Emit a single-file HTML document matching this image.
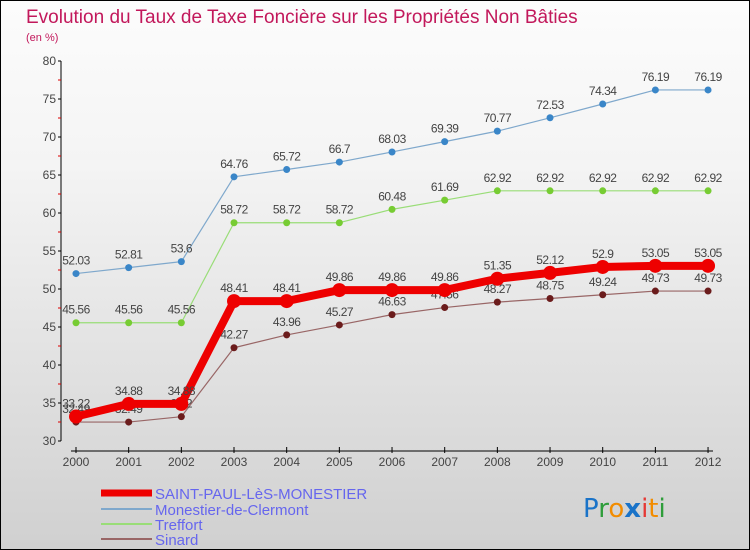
<!DOCTYPE html>
<html><head><meta charset="utf-8"><style>
body{margin:0}
#c{position:relative;width:748px;height:548px;border:1px solid #000;background:linear-gradient(#fcfcfc,#f4f4f4 30%,#d0d0d0);font-family:"Liberation Sans",sans-serif;overflow:hidden}
</style></head><body>
<div id="c">
<svg id="s" width="748" height="548" xmlns="http://www.w3.org/2000/svg" font-family="Liberation Sans, sans-serif">
<text x="25" y="22" font-size="19" fill="#c2185b">Evolution du Taux de Taxe Foncière sur les Propriétés Non Bâties</text>
<text x="25" y="40" font-size="11" fill="#c2185b">(en %)</text>
<g id="axes"></g><g id="series"></g>
<g>
<line x1="100" y1="492" x2="151" y2="492" stroke="#ee0000" stroke-width="7"/>
<text x="154" y="498" font-size="15" fill="#6666ee">SAINT-PAUL-LèS-MONESTIER</text>
<line x1="100" y1="508" x2="151" y2="508" stroke="#7fa8cc" stroke-width="2"/>
<text x="154" y="514" font-size="15" fill="#6666ee">Monestier-de-Clermont</text>
<line x1="100" y1="523" x2="151" y2="523" stroke="#99dd77" stroke-width="2"/>
<text x="154" y="529" font-size="15" fill="#6666ee">Treffort</text>
<line x1="100" y1="538" x2="151" y2="538" stroke="#996666" stroke-width="2"/>
<text x="154" y="544" font-size="15" fill="#6666ee">Sinard</text>
</g>
<g font-size="26" font-family="DejaVu Sans, sans-serif">
<text x="582" y="516"><tspan fill="#1a73c8">P</tspan><tspan fill="#2e9d3a">r</tspan><tspan fill="#f28c00">o</tspan><tspan fill="#1a73c8" font-weight="bold">x</tspan><tspan fill="#e53935">i</tspan><tspan fill="#f28c00">t</tspan><tspan fill="#2e9d3a">i</tspan></text>
</g>
</svg>
</div>
<script>
const years=[2000,2001,2002,2003,2004,2005,2006,2007,2008,2009,2010,2011,2012];
const saintPaul=[33.22,34.88,34.88,48.41,48.41,49.86,49.86,49.86,51.35,52.12,52.9,53.05,53.05];
const monestier=[52.03,52.81,53.6,64.76,65.72,66.7,68.03,69.39,70.77,72.53,74.34,76.19,76.19];
const treffort=[45.56,45.56,45.56,58.72,58.72,58.72,60.48,61.69,62.92,62.92,62.92,62.92,62.92];
const sinard=[32.49,32.49,33.2,42.27,43.96,45.27,46.63,47.56,48.27,48.75,49.24,49.73,49.73];
const yTicks=[30,35,40,45,50,55,60,65,70,75,80];
const NS="http://www.w3.org/2000/svg";
const xS=i=>75+i*52.67;
const yS=v=>440-(v-30)*7.6;
function el(t,a,p){const e=document.createElementNS(NS,t);for(const k in a)e.setAttribute(k,a[k]);p.appendChild(e);return e;}
const ax=document.getElementById('axes');
const yl=el('line',{x1:60,y1:60,x2:60,y2:440,stroke:'#000'},ax);


yTicks.forEach(v=>{
  el('line',{x1:57,y1:yS(v),x2:60,y2:yS(v),stroke:'#000'},ax);
  if(v<80) el('line',{x1:57,y1:yS(v+2.5),x2:60,y2:yS(v+2.5),stroke:'#d00'},ax);
  const t=el('text',{x:55,y:yS(v)+4,'font-size':12,fill:'#444','text-anchor':'end'},ax);t.textContent=v;
  
  
});
const xl=el('line',{x1:70,y1:450,x2:712,y2:450,stroke:'#000'},ax);


years.forEach((y,i)=>{
  el('line',{x1:xS(i),y1:446,x2:xS(i),y2:452,stroke:'#000'},ax);
  const t=el('text',{x:xS(i),y:465,'font-size':12,fill:'#444','text-anchor':'middle'},ax);t.textContent=y;
  
  
});
const sg=document.getElementById('series');
function series(vals,color,w,r,fill,name){
  const g=el('g',{},sg);
  
  
  const p=el('polyline',{points:vals.map((v,i)=>xS(i)+','+yS(v)).join(' '),fill:'none',stroke:color,'stroke-width':w,'stroke-linejoin':'round'},g);
  
  
  vals.forEach((v,i)=>{
    const c=el('circle',{cx:xS(i),cy:yS(v),r:r,fill:fill},g);
    
    
    const t=el('text',{x:xS(i),y:yS(v)-9,'font-size':12,fill:'#444','text-anchor':'middle','letter-spacing':'-0.5'},g);
    t.textContent=v;
    
    
  });
}
series(monestier,'#7fa8cc',1.2,3.5,'#3a86c8','series-monestier');
series(treffort,'#99dd77',1.2,3.5,'#77cc33','series-treffort');
series(sinard,'#996666',1.2,3.5,'#6b1c1c','series-sinard');
series(saintPaul,'#ee0000',8,7,'#ee0000','series-saint-paul');
</script>
</body></html>
